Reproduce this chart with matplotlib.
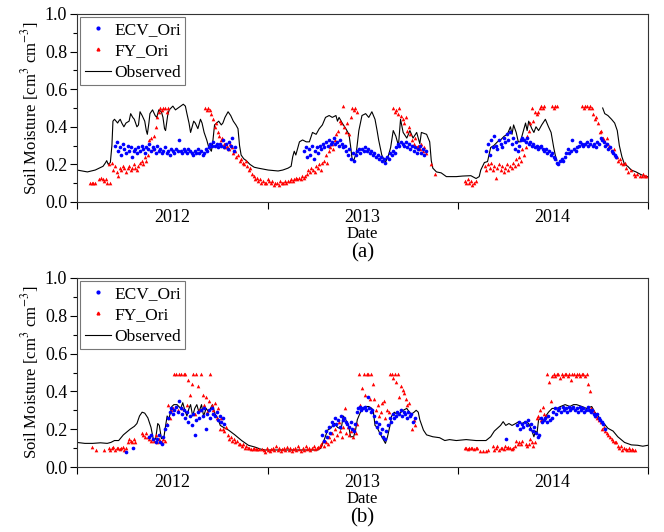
import numpy as np
import matplotlib
matplotlib.use("Agg")
import matplotlib.pyplot as plt
import matplotlib.dates as mdates
from matplotlib.lines import Line2D
from matplotlib.ticker import MultipleLocator, NullFormatter, FormatStrFormatter

plt.rcParams["font.family"] = ["Liberation Serif", "DejaVu Serif"]
plt.rcParams["mathtext.fontset"] = "stix"

# day offsets are counted from 2012-01-01
BASE = np.datetime64("2012-01-01")
STEP = 3  # satellite retrievals listed every third day
year_labels = ["2012", "2013", "2014"]

# ---------------- panel (a): original products vs. observation -------------
obs_a_points = [
    (0, 0.17), (10, 0.165), (20, 0.16), (35, 0.17), (50, 0.19), (55, 0.21), (57, 0.22),
    (60, 0.20), (64, 0.21), (67, 0.30), (69, 0.43), (72, 0.44), (75, 0.43), (78, 0.42),
    (80, 0.43), (83, 0.44), (86, 0.42), (90, 0.40), (94, 0.42), (100, 0.43), (103, 0.47),
    (107, 0.45), (110, 0.44), (115, 0.40), (118, 0.41), (121, 0.48), (125, 0.46), (130, 0.43),
    (133, 0.38), (135, 0.36), (138, 0.42), (140, 0.47), (145, 0.49), (150, 0.46), (153, 0.45),
    (157, 0.49), (162, 0.48), (165, 0.45), (168, 0.39), (170, 0.38), (174, 0.46), (177, 0.49),
    (184, 0.51), (189, 0.49), (194, 0.50), (199, 0.51), (204, 0.52), (208, 0.51), (211, 0.47),
    (215, 0.42), (218, 0.37), (221, 0.40), (224, 0.43), (227, 0.42), (232, 0.39), (237, 0.44),
    (240, 0.42), (244, 0.37), (249, 0.33), (253, 0.29), (258, 0.27), (261, 0.33), (264, 0.41),
    (268, 0.42), (272, 0.43), (277, 0.41), (280, 0.42), (284, 0.45), (290, 0.48), (295, 0.46),
    (300, 0.43), (305, 0.41), (309, 0.39), (312, 0.30), (315, 0.25), (320, 0.23), (325, 0.22),
    (332, 0.20), (340, 0.185), (348, 0.18), (367, 0.17), (386, 0.165), (395, 0.17), (405, 0.18),
    (411, 0.19), (414, 0.24), (417, 0.27), (420, 0.25), (424, 0.29), (427, 0.32), (433, 0.33),
    (440, 0.32), (446, 0.32), (452, 0.37), (459, 0.36), (465, 0.39), (471, 0.41), (477, 0.45),
    (484, 0.46), (490, 0.45), (497, 0.46), (500, 0.43), (503, 0.45), (509, 0.42), (516, 0.39),
    (522, 0.36), (525, 0.30), (528, 0.23), (531, 0.22), (536, 0.26), (541, 0.38), (547, 0.46),
    (554, 0.47), (560, 0.45), (566, 0.48), (572, 0.44), (576, 0.38), (579, 0.33), (585, 0.25),
    (592, 0.21), (598, 0.25), (602, 0.29), (607, 0.38), (612, 0.35), (617, 0.30), (621, 0.44),
    (626, 0.37), (633, 0.34), (639, 0.38), (645, 0.34), (652, 0.37), (658, 0.31), (661, 0.37),
    (671, 0.36), (677, 0.32), (680, 0.22), (683, 0.18), (690, 0.16), (699, 0.155), (709, 0.135),
    (728, 0.135), (740, 0.138), (756, 0.14), (766, 0.125), (772, 0.135), (775, 0.17), (782, 0.21),
    (788, 0.215), (794, 0.29), (800, 0.30), (807, 0.32), (813, 0.33), (820, 0.35), (826, 0.36),
    (832, 0.40), (835, 0.36), (838, 0.41), (843, 0.37), (847, 0.32), (851, 0.32), (856, 0.37),
    (861, 0.42), (864, 0.38), (867, 0.43), (873, 0.39), (877, 0.37), (881, 0.40), (886, 0.38),
    (892, 0.41), (899, 0.44), (905, 0.40), (910, 0.37), (915, 0.29), (918, 0.25), (921, 0.22),
    (965, None),
    (1009, 0.50), (1013, 0.47), (1019, 0.46), (1026, 0.44), (1032, 0.42), (1037, 0.38),
    (1041, 0.30), (1046, 0.24), (1051, 0.20), (1057, 0.19), (1064, 0.17), (1073, 0.16),
    (1083, 0.145), (1092, 0.135), (1096, 0.135),
]

ecv_a_segments = [
    (73, [0.30, 0.32, 0.27, 0.29, 0.25, 0.31, 0.28, 0.26, 0.30, 0.27, 0.29, 0.24, 0.27, 0.28,
          0.26, 0.29, 0.27, 0.30, 0.28, 0.26, 0.29, 0.28, 0.31, 0.27, 0.29, 0.28, 0.26, 0.30,
          0.27, 0.28, 0.26, 0.27, 0.29, 0.26, 0.27, 0.25, 0.28, 0.27, 0.26, 0.28, 0.27, 0.33,
          0.27, 0.26, 0.28, 0.27, 0.26, 0.28, 0.27, 0.26, 0.25, 0.27, 0.26, 0.28, 0.26, 0.27,
          0.25, 0.26, 0.28, 0.27, 0.29, 0.31, 0.30, 0.32, 0.30, 0.31, 0.29, 0.31, 0.30, 0.33,
          0.29, 0.31, 0.28, 0.32, 0.30, 0.34, 0.27, 0.29]),
    (436, [0.27, 0.29, 0.24, 0.28, 0.25, 0.30, 0.23, 0.27, 0.29, 0.26, 0.30, 0.28, 0.31, 0.29,
           0.32, 0.30, 0.33, 0.31, 0.32, 0.34, 0.31, 0.32, 0.30, 0.33, 0.31, 0.29, 0.30, 0.27,
           0.25, 0.28, 0.23, 0.26, 0.22, 0.25, 0.27, 0.28, 0.26, 0.28, 0.27, 0.29, 0.27, 0.28,
           0.26, 0.27, 0.25, 0.26, 0.24, 0.25, 0.23, 0.24, 0.22, 0.23, 0.21, 0.24, 0.23, 0.26,
           0.25, 0.27, 0.26, 0.29, 0.31, 0.30, 0.32, 0.31, 0.30, 0.32, 0.29, 0.31, 0.28, 0.30,
           0.27, 0.29, 0.26, 0.28, 0.30, 0.26, 0.28, 0.25, 0.27]),
    (786, [0.27, 0.31, 0.25, 0.33, 0.29, 0.35, 0.30, 0.28, 0.33, 0.31, 0.29, 0.34, 0.32, 0.36,
           0.33, 0.37, 0.31, 0.34, 0.28, 0.32, 0.27, 0.30, 0.33, 0.34, 0.33, 0.32, 0.34, 0.31,
           0.32, 0.30, 0.31, 0.29, 0.30, 0.28, 0.29, 0.30, 0.28, 0.27, 0.28, 0.26, 0.27, 0.25,
           0.26, 0.24, 0.23, 0.21, 0.20, 0.22, 0.23, 0.22, 0.24, 0.26, 0.28, 0.26, 0.27, 0.33,
           0.28, 0.27, 0.29, 0.30, 0.32, 0.31, 0.30, 0.31, 0.32, 0.30, 0.31, 0.33, 0.30, 0.31,
           0.29, 0.32, 0.31, 0.34, 0.33, 0.32, 0.30, 0.31, 0.28, 0.29, 0.27, 0.26, 0.25, 0.24]),
]

fy_a_segments = [
    (25, [0.10, 0.10, 0.10, 0.10, None, None, 0.12, 0.13, 0.12, 0.11, 0.12, 0.10, 0.20, 0.10,
          0.21, 0.17, 0.19, 0.16, 0.14, 0.18, 0.17, 0.19, 0.18, 0.16, 0.18, 0.19, 0.17, 0.18,
          0.20, 0.18, 0.17, 0.19, 0.21, 0.22, 0.20, 0.24, 0.22, 0.25, 0.33, 0.34, 0.28, 0.35,
          0.40, 0.45, 0.48, 0.50, 0.49, 0.50, 0.50, 0.48, 0.50]),
    (246, [0.50, 0.49, 0.50, 0.49, 0.47, 0.44, 0.40, 0.42, 0.37, 0.35, 0.33, 0.34, 0.31, 0.29,
           0.30, 0.28, 0.31, 0.29, 0.26, 0.27, 0.24, 0.25, 0.22, 0.23, 0.21, 0.20, 0.22, 0.19,
           0.17, 0.18, 0.15, 0.14, 0.12, 0.13, 0.11, 0.12, 0.10, 0.11, 0.10, 0.10]),
    (366, [0.12, 0.11, 0.10, 0.11, 0.09, 0.10, 0.10, 0.09, 0.11, 0.10, 0.10, 0.11, 0.10, 0.11,
           0.11, 0.12, 0.11, 0.12, 0.13, 0.12, 0.13, 0.12, 0.14, 0.13, 0.14, 0.15, 0.17, 0.16,
           0.18, 0.17, 0.16, 0.19, 0.18, 0.20, 0.17, 0.21, 0.22, 0.25, 0.21, 0.27, 0.29, 0.31,
           0.28, 0.33, 0.36, 0.38, 0.43, 0.42, 0.51, 0.40, 0.37, 0.42, 0.36, 0.45, 0.50, 0.49,
           0.50, 0.48]),
    (607, [0.50, 0.48, 0.49, 0.47, 0.50, 0.46, 0.44, 0.42, 0.45, 0.38, 0.40, 0.36, 0.33, 0.31,
           0.34, 0.29, 0.30, 0.28, 0.31, 0.27, 0.29, 0.26, None, None, 0.20, None, None, 0.15]),
    (744, [0.11, 0.10, 0.12, 0.10, 0.11, 0.09, 0.10, 0.11, None, None, None, None, None, 0.19,
           0.17, 0.20, 0.18, 0.21, 0.17, 0.19, 0.13, 0.18, 0.20, 0.17, 0.19, 0.16, 0.18, 0.20,
           0.17, 0.19, 0.18, 0.21, 0.19, 0.23, 0.20, 0.24, 0.22, 0.28, 0.25, 0.29, 0.35, 0.38,
           0.42, 0.50, 0.43, 0.48, 0.47, 0.48, 0.50, 0.51, 0.50, 0.51, None, None, None, None,
           0.51, 0.50, 0.51, 0.51]),
    (970, [0.51, 0.50, 0.51, 0.51, 0.50, 0.51, 0.50, 0.47, 0.44, 0.45, 0.42, 0.37, 0.38, 0.34,
           0.33, 0.31, 0.34, 0.30, 0.29, 0.27, 0.28, 0.25, 0.24, 0.22, 0.23, 0.21, 0.20, 0.21,
           0.18, 0.16, None, 0.17, None, 0.15, 0.14, 0.15, None, 0.14, 0.14, 0.15, 0.14, 0.14]),
]

# ---------------- panel (b) ------------------------------------------------
obs_b_points = [
    (0, 0.13), (15, 0.125), (30, 0.125), (45, 0.128), (58, 0.125), (65, 0.13), (72, 0.14),
    (80, 0.14), (89, 0.17), (102, 0.20), (110, 0.215), (115, 0.23), (120, 0.27), (125, 0.29),
    (130, 0.285), (136, 0.26), (142, 0.21), (147, 0.14), (151, 0.15), (155, 0.23), (158, 0.22),
    (162, 0.15), (167, 0.16), (169, 0.20), (173, 0.27), (176, 0.25), (182, 0.32), (186, 0.33),
    (192, 0.33), (199, 0.31), (203, 0.34), (207, 0.30), (211, 0.27), (215, 0.31), (218, 0.33),
    (222, 0.27), (226, 0.31), (230, 0.33), (234, 0.29), (239, 0.33), (243, 0.27), (248, 0.31),
    (253, 0.29), (258, 0.32), (260, 0.33), (265, 0.28), (270, 0.26), (275, 0.22), (281, 0.21),
    (291, 0.195), (303, 0.17), (316, 0.14), (329, 0.115), (342, 0.105), (352, 0.095),
    (361, 0.09), (379, 0.09), (411, 0.09), (443, 0.09), (462, 0.09), (468, 0.10), (474, 0.14),
    (481, 0.195), (487, 0.205), (494, 0.23), (500, 0.21), (507, 0.20), (511, 0.27), (516, 0.25),
    (522, 0.21), (525, 0.16), (531, 0.16), (535, 0.20), (538, 0.25), (541, 0.27), (547, 0.31),
    (554, 0.32), (560, 0.32), (566, 0.31), (569, 0.29), (572, 0.22), (576, 0.21), (581, 0.18),
    (585, 0.16), (592, 0.125), (596, 0.16), (600, 0.21), (604, 0.27), (609, 0.29), (614, 0.28),
    (620, 0.285), (626, 0.30), (633, 0.31), (638, 0.29), (642, 0.28), (647, 0.29), (651, 0.30),
    (655, 0.29), (658, 0.25), (665, 0.195), (671, 0.17), (683, 0.16), (696, 0.155), (706, 0.14),
    (715, 0.145), (728, 0.14), (747, 0.145), (766, 0.14), (785, 0.14), (794, 0.16), (801, 0.19),
    (807, 0.205), (813, 0.22), (818, 0.24), (823, 0.22), (829, 0.23), (835, 0.22), (842, 0.23),
    (848, 0.24), (854, 0.23), (861, 0.24), (867, 0.23), (872, 0.20), (877, 0.16), (880, 0.19),
    (883, 0.18), (886, 0.25), (891, 0.26), (896, 0.24), (900, 0.27), (905, 0.29), (912, 0.31),
    (921, 0.31), (928, 0.32), (937, 0.33), (946, 0.32), (953, 0.33), (959, 0.33), (969, 0.32),
    (978, 0.31), (988, 0.32), (994, 0.29), (1000, 0.27), (1007, 0.24), (1013, 0.225),
    (1019, 0.205), (1029, 0.19), (1038, 0.16), (1051, 0.13), (1064, 0.117), (1076, 0.115),
    (1086, 0.11), (1096, 0.115),
]

ecv_b_segments = [
    (94, [0.08]),
    (107, [0.10]),
    (139, [0.16, 0.17, 0.15, None, 0.13, 0.15, 0.17, 0.13, 0.12, 0.16, 0.20, 0.22, 0.26, 0.29,
           0.31, 0.28, 0.30, 0.32, 0.29, 0.35, 0.31, 0.28, 0.30, 0.26, 0.29, 0.24, 0.27, 0.22,
           0.28, 0.17, 0.25, 0.29, 0.26, 0.30, 0.27, 0.31, 0.20, 0.28, 0.30, 0.26, 0.31, 0.28,
           0.27, 0.29, 0.25, 0.27, 0.24, 0.26, 0.23]),
    (471, [0.17, 0.14, 0.19, 0.16, 0.21, 0.18, 0.24, 0.22, 0.26, 0.23, 0.25, 0.21, 0.27, 0.25,
           0.26, 0.24, 0.23, 0.21, 0.24, 0.20, 0.19, 0.23, 0.29, 0.31, 0.32, 0.30, 0.31, 0.32,
           0.30, 0.37, 0.31, 0.29, 0.30, 0.27, 0.24, 0.21, 0.23, 0.18, 0.20, 0.16, 0.15, 0.19,
           0.22, 0.26, 0.24, 0.28, 0.26, 0.27, 0.29, 0.28, 0.30, 0.27, 0.29, 0.28, 0.26, 0.29,
           0.27, 0.28, 0.24, 0.26]),
    (823, [0.15]),
    (845, [0.22, 0.24, 0.20, 0.23, 0.21, 0.24, 0.22, 0.25, 0.20, 0.23, 0.19, 0.21, 0.18, 0.16,
           0.17, 0.26, 0.24, 0.25, 0.26, 0.24, 0.27, 0.25, 0.26, 0.29, 0.31, 0.28, 0.30, 0.31,
           0.29, 0.32, 0.30, 0.31, 0.29, 0.32, 0.30, 0.31, 0.32, 0.30, 0.31, 0.29, 0.32, 0.30,
           0.31, 0.29, 0.30, 0.32, 0.30, 0.29, 0.30, 0.28, 0.27, 0.28, 0.26, 0.25, 0.24, 0.23,
           0.20]),
]

fy_b_segments = [
    (28, [0.105, None, None, 0.088, None, None, None, None, 0.088, None, None, 0.10, 0.09,
          0.10, 0.105, 0.09, 0.10, 0.10, 0.095, 0.10, 0.105, 0.09, 0.10, 0.13, 0.15, 0.14,
          0.13, 0.15, 0.13, None, None, None, 0.18, 0.17, 0.16, 0.18, 0.16, 0.15, 0.14, 0.15,
          0.14, 0.17, 0.13, 0.15, 0.14, 0.13, 0.15, 0.14, 0.23, 0.33, 0.26, 0.30, 0.31, 0.49,
          0.49, 0.30, 0.49, 0.49, 0.31, 0.49, 0.49, 0.33, 0.46, 0.38, 0.44, 0.49, 0.28, 0.49,
          0.43, 0.30, 0.49, 0.38, 0.33, 0.37, 0.29, 0.35, 0.49, 0.33, 0.30, 0.34, 0.26, 0.31,
          0.20, 0.26, 0.20, 0.19, 0.21, 0.17, 0.15, 0.16, 0.14, 0.15, 0.13, 0.14, 0.12, 0.12,
          0.11, 0.12, 0.10, 0.11, 0.10, 0.10, 0.095, 0.094, 0.10, 0.094, 0.095, 0.094]),
    (355, [0.095, 0.09, 0.08, 0.10, 0.09, 0.085, 0.095, 0.10, 0.09, 0.11, 0.09, 0.10, 0.085,
           0.095, 0.10, 0.09, 0.105, 0.09, 0.10, 0.085, 0.095, 0.10, 0.09, 0.11, 0.095, 0.085,
           0.10, 0.09, 0.11, 0.095, 0.10, 0.09, 0.10, 0.11, 0.095, 0.10, 0.105, 0.11, 0.12,
           0.14, 0.11, 0.13, 0.12, 0.16, 0.14, 0.18, 0.15, 0.20, 0.17, 0.24, 0.19, 0.16, 0.21,
           0.31, 0.18, 0.21, 0.17, 0.19, 0.16, 0.20, 0.18, 0.23, 0.49, 0.33, 0.42, 0.49, 0.38,
           0.49, 0.49, 0.36, 0.49, 0.44, 0.36, 0.30, 0.33, 0.27, 0.29, 0.34, 0.35, 0.26, 0.30,
           0.29, 0.49, 0.49, 0.47, 0.49, 0.45, 0.49, 0.37, 0.43, 0.41, 0.39, 0.36, 0.33, 0.34,
           0.28, 0.20, 0.25, 0.22]),
    (744, [0.10, 0.10, 0.095, 0.10, 0.10, 0.10, 0.095, 0.10, 0.10, None, 0.085, None, 0.085,
           None, 0.085, 0.09, None, None, 0.11, 0.09, 0.10, 0.11, 0.09, 0.10, 0.10, 0.095,
           0.11, 0.10, 0.105, 0.10, 0.095, 0.10, 0.11, 0.14, 0.12, 0.13, 0.12, 0.14, None,
           0.12, 0.11, 0.12, 0.15, 0.13, 0.11, 0.13, 0.26, 0.27, 0.30, 0.25, 0.32, 0.28, 0.27,
           0.49, 0.45, 0.35, 0.48, 0.49, 0.48, 0.49, 0.49, 0.47, 0.49, 0.48, 0.49, 0.49, 0.48,
           0.49, 0.46, 0.49, 0.49, 0.48, 0.49, 0.49, 0.48, 0.49, 0.49, 0.48, 0.49, 0.44, 0.40,
           0.31, 0.30, 0.29, 0.27, 0.26, 0.25, 0.24, 0.20, 0.21, 0.19, 0.18, 0.17, 0.16, 0.15,
           0.14, 0.13, 0.13, 0.11, 0.10, 0.11, 0.09, 0.10, 0.095, 0.09, 0.10, 0.09, 0.095,
           0.09, 0.09]),
]


def to_dates(days):
    return BASE + np.asarray(days, dtype=int).astype("timedelta64[D]")


def expand(segments):
    days, vals = [], []
    for start, values in segments:
        for i, v in enumerate(values):
            days.append(start + STEP * i)
            vals.append(v)
    return to_dates(days), np.array(vals, dtype=float)


def split_points(points):
    days = [d for d, _ in points]
    vals = np.array([v for _, v in points], dtype=float)
    return to_dates(days), vals


fig = plt.figure(figsize=(6.64, 5.32), dpi=100)
ax_a = fig.add_axes([77 / 664, 1 - 202 / 532, 571 / 664, 188 / 532])
ax_b = fig.add_axes([77 / 664, 1 - 467 / 532, 571 / 664, 189 / 532])

panels = [
    (ax_a, obs_a_points, ecv_a_segments, fy_a_segments, "(a)", 1 - 253 / 532),
    (ax_b, obs_b_points, ecv_b_segments, fy_b_segments, "(b)", 1 - 518 / 532),
]

for ax, obs_pts, ecv_seg, fy_seg, tag, tag_y in panels:
    od, ov = split_points(obs_pts)
    ed, ev = expand(ecv_seg)
    fd, fv = expand(fy_seg)

    ax.plot(od, ov, color="black", lw=0.8, zorder=2)
    ax.scatter(fd, fv, marker="^", s=7, color="#ff0000", linewidths=0, zorder=3)
    ax.scatter(ed, ev, marker="o", s=7, color="#0000ff", linewidths=0, zorder=4)

    ax.set_xlim(to_dates([0])[0], to_dates([1096])[0])
    ax.set_ylim(0.0, 1.0)
    ax.yaxis.set_major_locator(MultipleLocator(0.2))
    ax.yaxis.set_minor_locator(MultipleLocator(0.1))
    ax.yaxis.set_major_formatter(FormatStrFormatter("%.1f"))

    ax.xaxis.set_major_locator(mdates.YearLocator())
    ax.xaxis.set_major_formatter(NullFormatter())
    ax.xaxis.set_minor_locator(mdates.MonthLocator(bymonth=7, bymonthday=2))
    ax.xaxis.set_minor_formatter(mdates.DateFormatter("%Y"))

    ax.tick_params(axis="x", which="major", direction="out", length=5, width=0.8)
    ax.tick_params(axis="x", which="minor", length=0, labelsize=13, pad=5)
    ax.tick_params(axis="y", which="major", direction="out", length=5, width=0.8,
                   labelsize=13, pad=2)
    ax.tick_params(axis="y", which="minor", direction="out", length=3, width=0.8)
    for sp in ax.spines.values():
        sp.set_linewidth(0.8)
        sp.set_color("#333333")

    ax.set_xlabel("Date", fontsize=12, labelpad=0)
    ax.set_ylabel(r"Soil Moisture [cm$^{3}$ cm$^{-3}$]", fontsize=12, labelpad=3)

    handles = [
        Line2D([], [], marker="o", ls="none", color="#0000ff", markersize=2),
        Line2D([], [], marker="^", ls="none", color="#ff0000", markersize=2),
        Line2D([], [], color="black", lw=0.8),
    ]
    leg = ax.legend(handles, ["ECV_Ori", "FY_Ori", "Observed"], loc="upper left",
                    fontsize=12.5, frameon=True, fancybox=False, borderaxespad=0.2,
                    handlelength=1.5, handletextpad=0.2, borderpad=0.25,
                    labelspacing=0.3)
    leg.get_frame().set_edgecolor("#555555")
    leg.get_frame().set_linewidth(0.8)

    fig.text((77 + 285.5) / 664, tag_y, tag, ha="center", va="center", fontsize=15)

fig.savefig("out.png", dpi=100)
